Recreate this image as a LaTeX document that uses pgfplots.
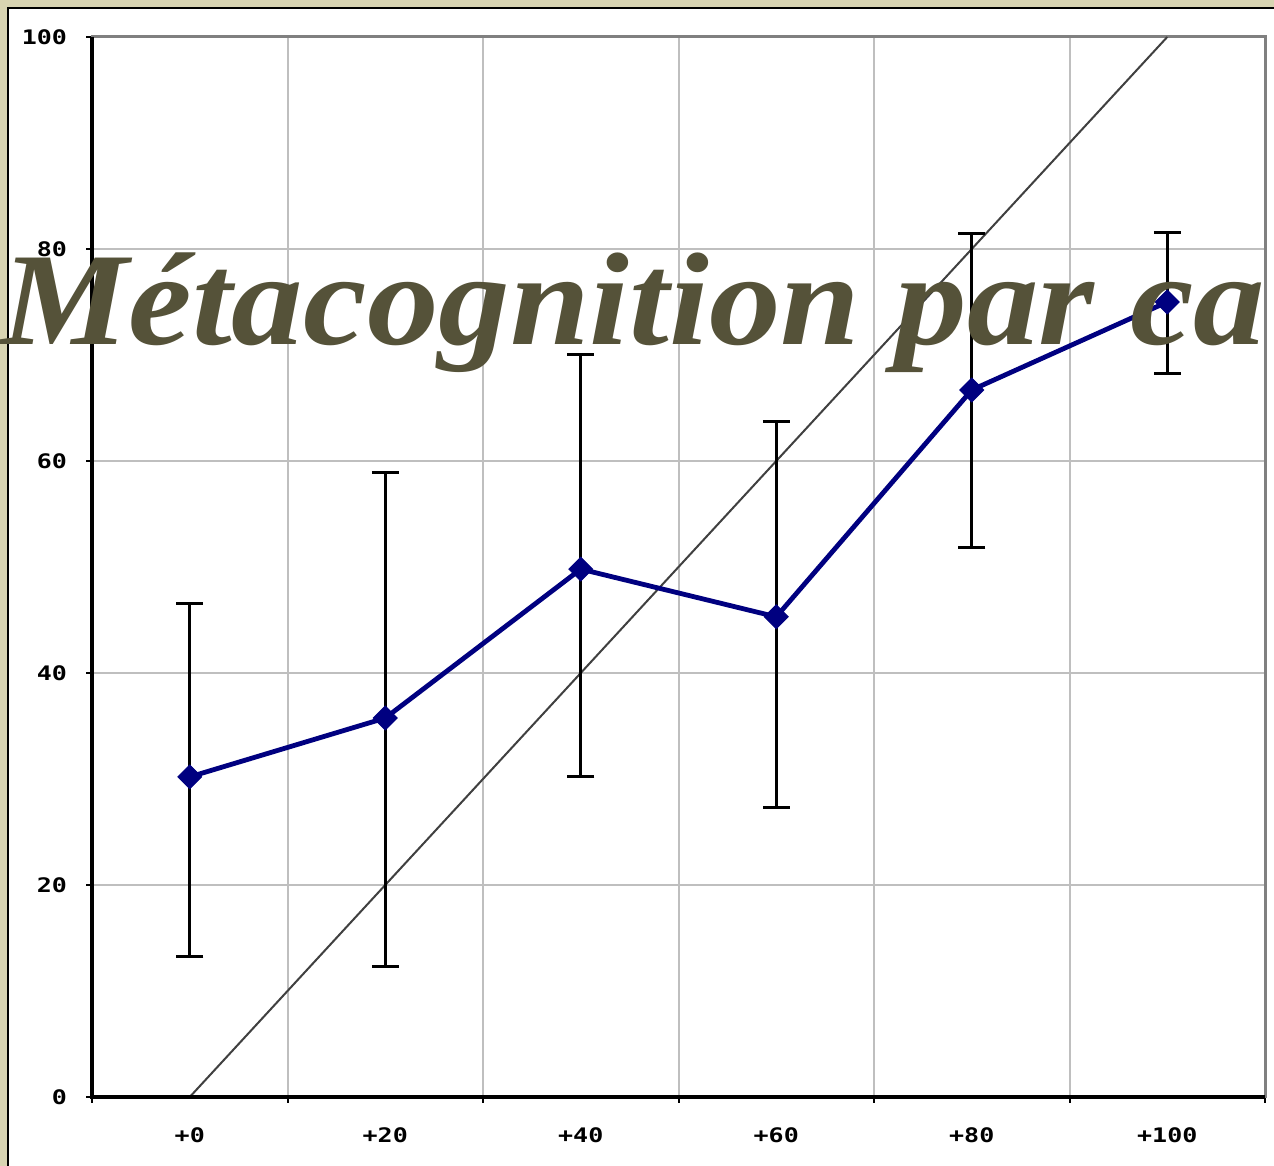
\documentclass[border=0pt]{standalone}
\usepackage{pgfplots}
\pgfplotsset{compat=1.18}
\usepackage{graphicx}
\usepackage{fontspec}
\setmainfont{Liberation Serif}
\newfontfamily\tickfont{DejaVu Sans Mono}

\definecolor{beige}{HTML}{D8D4B2}
\definecolor{titlecol}{RGB}{85,82,57}
\definecolor{navy}{HTML}{000080}

% pixel-ish tick labels, stretched a bit
\newcommand\tl[1]{\scalebox{1.25}[1]{\tickfont\bfseries #1}}

\begin{document}
\begin{tikzpicture}
  \path[use as bounding box] (0,0) rectangle (637pt,583pt);
  \fill[beige] (0,0) rectangle (637pt,583pt);
  \fill[white] (4pt,0) rectangle (637pt,579pt);
  \draw[black, line width=1pt] (4pt,0) -- (4pt,579pt) -- (637pt,579pt);

  \begin{axis}[
    at={(46pt,34.5pt)}, anchor=south west,
    scale only axis, width=586.5pt, height=530pt,
    xmin=-10, xmax=110, ymin=0, ymax=100,
    clip=false,
    axis line style={draw=gray, line width=1.5pt},
    tick pos=left, tick align=outside,
    xtick={0,20,...,100},
    xticklabels={\tl{+0},\tl{+20},\tl{+40},\tl{+60},\tl{+80},\tl{+100}},
    major x tick style={draw=none},
    minor xtick={-10,10,30,50,70,90,110},
    xminorgrids=true,
    minor x grid style={color=black!25, line width=1pt},
    minor tick length=3pt,
    minor x tick style={black, line width=1pt},
    ytick={0,20,...,100},
    yticklabels={\tl{0},\tl{20},\tl{40},\tl{60},\tl{80},\tl{100}},
    ymajorgrids=true,
    major y grid style={color=black!25, line width=1pt},
    major tick length=3pt,
    major y tick style={black, line width=1pt},
    xticklabel style={yshift=-9pt},
    yticklabel style={xshift=-6pt},
  ]
    % identity line
    \addplot[color=black!75, line width=1pt] coordinates {(0,0) (100,100)};

    \addplot[color=navy, line width=2.4pt, mark=square*,
      mark size=4.2pt, mark options={rotate=45, fill=navy, draw=navy, line width=0.5pt},
      error bars/.cd, y dir=both, y explicit,
      error bar style={black, line width=1.3pt},
      error mark options={rotate=90, mark size=6.75pt, black, line width=1.5pt}]
      coordinates {
        (0,30.2)   += (0,16.4) -= (0,16.9)
        (20,35.75) += (0,23.2) -= (0,23.4)
        (40,49.8)  += (0,20.2) -= (0,19.6)
        (60,45.3)  += (0,18.4) -= (0,18.0)
        (80,66.7)  += (0,14.8) -= (0,14.9)
        (100,75.0) += (0,6.6)  -= (0,6.7)
      };

    \draw[black, line width=1.6pt] (rel axis cs:0,1) -- (rel axis cs:0,0) -- (rel axis cs:1,0);
  \end{axis}

  \node[anchor=base west, inner sep=0, text=titlecol] at (0.5pt,410.5pt)
    {\resizebox{632pt}{\height}{\fontsize{66pt}{66pt}\selectfont\bfseries\itshape Métacognition par ca}};
\end{tikzpicture}
\end{document}
